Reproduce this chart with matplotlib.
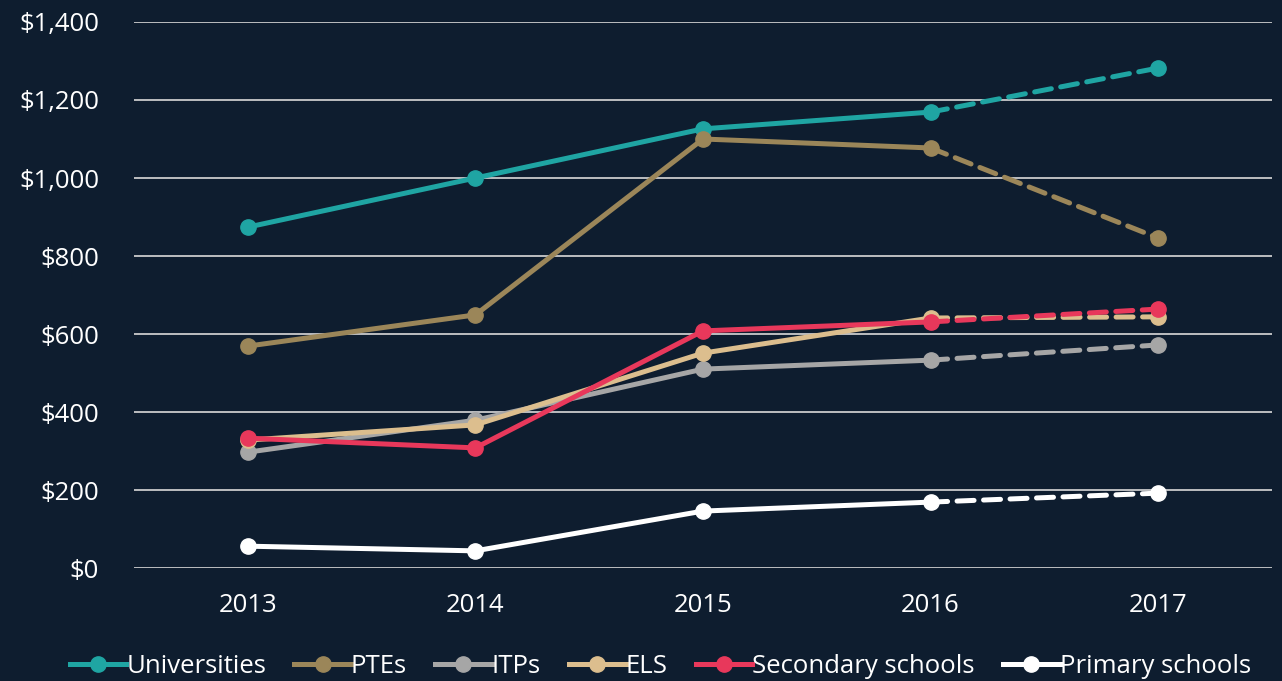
import matplotlib
matplotlib.use("Agg")
import matplotlib.pyplot as plt
from matplotlib.lines import Line2D

plt.rcParams['font.family'] = ['Open Sans', 'DejaVu Sans']

years = [2013, 2014, 2015, 2016, 2017]
series_names = ["Universities", "PTEs", "ITPs", "ELS", "Secondary schools", "Primary schools"]
universities = [874, 1000, 1126, 1169, 1282]
ptes = [569, 649, 1100, 1077, 846]
itps = [297, 379, 510, 533, 572]
els = [328, 367, 551, 641, 644]
secondary = [333, 308, 608, 631, 664]
primary = [56, 44, 146, 169, 192]
yticks = [0, 200, 400, 600, 800, 1000, 1200, 1400]
ytick_labels = ["$0", "$200", "$400", "$600", "$800", "$1,000", "$1,200", "$1,400"]

values = [universities, ptes, itps, els, secondary, primary]
colors = ["#1fa5a3", "#9b8659", "#a6a6a6", "#dcbe8e", "#e8385b", "#ffffff"]

bg = "#0e1d2f"
fig = plt.figure(figsize=(12.82, 6.81), dpi=100, facecolor=bg)
ax = fig.add_axes([0.1045, 0.1659, 0.8877, 0.8018], facecolor=bg)

lw = 3.6
ms = 11
handles = []
for name, vals, c in zip(series_names, values, colors):
    ax.plot(years[:4], vals[:4], color=c, lw=lw, marker='o', ms=ms,
            solid_capstyle='round', zorder=3)
    ax.plot(years[3:], vals[3:], color=c, lw=lw, marker='o', ms=ms,
            dashes=(3.4, 1.9), dash_capstyle='round', zorder=3, markevery=[1])
    handles.append(Line2D([0], [0], color=c, lw=lw, marker='o', ms=ms))

ax.set_xlim(2012.5, 2017.5)
ax.set_ylim(0, 1400)
ax.set_xticks(years)
ax.set_xticklabels([str(y) for y in years])
ax.set_yticks(yticks)
ax.set_yticklabels(ytick_labels)
ax.tick_params(axis='both', length=0, colors='white', labelsize=18.5)
ax.tick_params(axis='x', pad=18)
ax.tick_params(axis='y', pad=25)
ax.grid(axis='y', color='#d9d9d9', lw=1.2, zorder=1)
ax.set_axisbelow(True)
for s in ax.spines.values():
    s.set_visible(False)

leg = fig.legend(handles, series_names, loc='center', bbox_to_anchor=(0.515, 0.021),
                 ncol=6, frameon=False, fontsize=18.5, labelcolor='white',
                 handlelength=2.2, handletextpad=0.0, columnspacing=1.1,
                 borderaxespad=0)

fig.savefig("out.png", dpi=100, facecolor=bg)
